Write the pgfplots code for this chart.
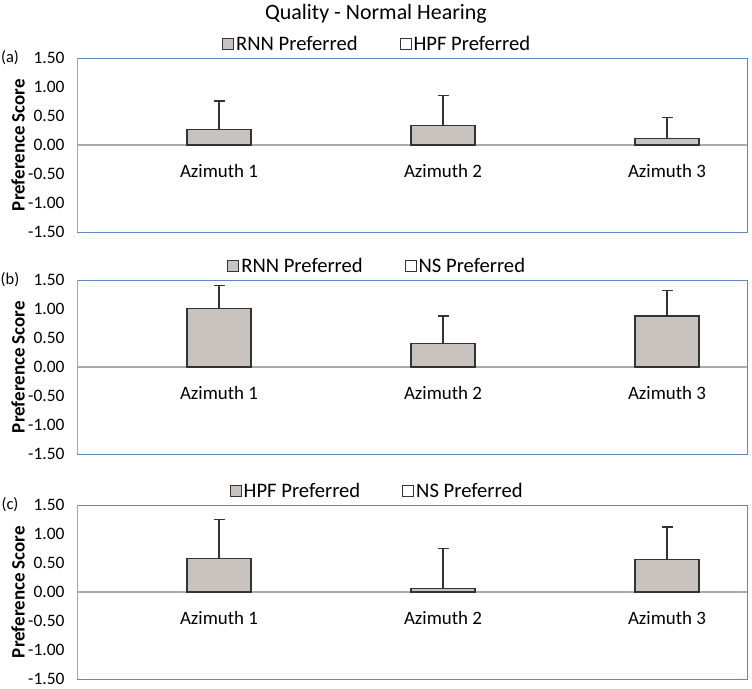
\documentclass[border=0pt]{standalone}
\usepackage{pgfplots}
\pgfplotsset{compat=1.18}
\usepackage{pgfplotstable}
\usepackage{fontspec}
\setmainfont{Carlito}
\definecolor{barfill}{HTML}{C9C3C0}
\definecolor{frameblue}{HTML}{5E88BF}
\definecolor{zerocol}{HTML}{B0A8A5}
\definecolor{edge}{HTML}{333333}

\pgfplotstableread{
x y e
1 0.27 0.49
2 0.34 0.52
3 0.11 0.37
}\dataA
\pgfplotstableread{
x y e
1 1.01 0.40
2 0.40 0.48
3 0.88 0.44
}\dataB
\pgfplotstableread{
x y e
1 0.58 0.67
2 0.06 0.69
3 0.56 0.56
}\dataC

\pgfplotsset{
 panel/.style={
  scale only axis, width=670bp, height=174bp,
  xmin=0.366, xmax=3.357, ymin=-1.5, ymax=1.5,
  ytick={-1.5,-1,-0.5,0,0.5,1,1.5},
  /pgf/number format/assume math mode=true,
  yticklabel style={/pgf/number format/.cd, fixed, fixed zerofill, precision=2, /tikz/.cd, font=\fontsize{17.5}{17.5}\selectfont, xshift=-9bp},
  xtick=\empty,
  major tick length=0pt,
  axis line style={frameblue, line width=1pt},
  ylabel={\bfseries Preference Score},
  every axis y label/.style={at={(axis description cs:-0.088,0.5)}, rotate=90, anchor=center, font=\fontsize{19}{19}\selectfont},
  legend style={draw=none, fill=none, at={(0.448,1.0)}, anchor=south, yshift=2bp, legend columns=2, font=\fontsize{20.7}{20.7}\selectfont, /tikz/every even column/.append style={column sep=40bp}},
  extra y ticks={0}, extra y tick labels={}, extra y tick style={grid=major, major grid style={zerocol, line width=1.2pt}},
  clip=false,
 },
 mybox/.style={legend image code/.code={\draw[##1, draw=edge, line width=1pt] (0bp,-5.5bp) rectangle (11bp,5.5bp);}},
 mybar/.style={ybar, bar width=64bp, fill=barfill, draw=edge, line width=1.3pt, forget plot,
   error bars/.cd, y dir=plus, y explicit, error bar style={edge, line width=1.2pt}, error mark options={edge, line width=1.2pt, mark size=5.5bp, rotate=90}},
}

\begin{document}
\begin{tikzpicture}
\useasboundingbox (0,0) rectangle (752bp,-689bp);
\node[font=\fontsize{22}{22}\selectfont] at (376bp,-14bp) {Quality - Normal Hearing};

% (a)
\begin{axis}[panel, at={(77bp,-232bp)}, anchor=south west]
\addplot[mybar] table[x=x,y=y,y error=e] {\dataA};
\addlegendimage{mybox, fill=barfill}
\addlegendentry{RNN Preferred}
\addlegendimage{mybox, fill=white}
\addlegendentry{HPF Preferred}
\node[font=\fontsize{19}{19}\selectfont] at (axis cs:1,-0.45) {Azimuth 1};
\node[font=\fontsize{19}{19}\selectfont] at (axis cs:2,-0.45) {Azimuth 2};
\node[font=\fontsize{19}{19}\selectfont] at (axis cs:3,-0.45) {Azimuth 3};
\node[font=\fontsize{16.5}{16.5}\selectfont] at (axis description cs:-0.1,1.0) {(a)};
\draw[gray!70, line width=1pt] (rel axis cs:0,0) -- (rel axis cs:0,1);
\end{axis}

% (b)
\begin{axis}[panel, at={(77bp,-454bp)}, anchor=south west]
\addplot[mybar] table[x=x,y=y,y error=e] {\dataB};
\addlegendimage{mybox, fill=barfill}
\addlegendentry{RNN Preferred}
\addlegendimage{mybox, fill=white}
\addlegendentry{NS Preferred}
\node[font=\fontsize{19}{19}\selectfont] at (axis cs:1,-0.45) {Azimuth 1};
\node[font=\fontsize{19}{19}\selectfont] at (axis cs:2,-0.45) {Azimuth 2};
\node[font=\fontsize{19}{19}\selectfont] at (axis cs:3,-0.45) {Azimuth 3};
\node[font=\fontsize{16.5}{16.5}\selectfont] at (axis description cs:-0.1,1.0) {(b)};
\draw[gray!70, line width=1pt] (rel axis cs:0,0) -- (rel axis cs:0,1);
\end{axis}

% (c)
\begin{axis}[panel, at={(77bp,-679bp)}, anchor=south west]
\addplot[mybar] table[x=x,y=y,y error=e] {\dataC};
\addlegendimage{mybox, fill=barfill}
\addlegendentry{HPF Preferred}
\addlegendimage{mybox, fill=white}
\addlegendentry{NS Preferred}
\node[font=\fontsize{19}{19}\selectfont] at (axis cs:1,-0.45) {Azimuth 1};
\node[font=\fontsize{19}{19}\selectfont] at (axis cs:2,-0.45) {Azimuth 2};
\node[font=\fontsize{19}{19}\selectfont] at (axis cs:3,-0.45) {Azimuth 3};
\node[font=\fontsize{16.5}{16.5}\selectfont] at (axis description cs:-0.1,1.0) {(c)};
\draw[gray!70, line width=1pt] (rel axis cs:0,0) -- (rel axis cs:0,1);
\end{axis}
\end{tikzpicture}
\end{document}
